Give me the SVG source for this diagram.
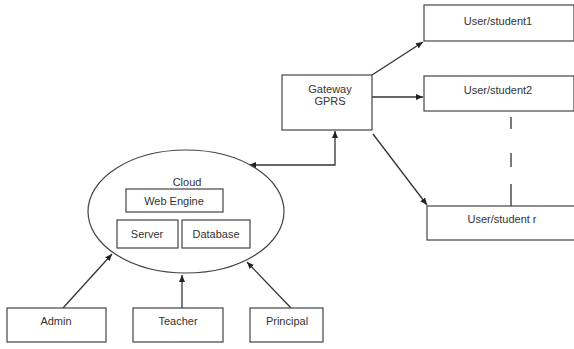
<svg xmlns="http://www.w3.org/2000/svg" width="574" height="349" viewBox="0 0 574 349">
<style>
.box{fill:#fff;stroke:#444;stroke-width:1.2}
.lbl{font-family:"Liberation Sans",Arial,sans-serif;font-size:11px;fill:#333;text-anchor:middle}
.con{fill:none;stroke:#333;stroke-width:1.3}
</style>
<defs>
<marker id="ah" markerWidth="8" markerHeight="8" refX="7" refY="4" orient="auto" markerUnits="userSpaceOnUse">
<path d="M0,1 L7,4 L0,7 Z" fill="#222"/>
</marker>
<marker id="ahs" markerWidth="8" markerHeight="8" refX="0" refY="4" orient="auto" markerUnits="userSpaceOnUse">
<path d="M7,1 L0,4 L7,7 Z" fill="#222"/>
</marker>
</defs>
<rect width="574" height="349" fill="#fff"/>
<g id="connectors">
<line class="con" x1="372" y1="75" x2="423" y2="42" marker-end="url(#ah)"/>
<line class="con" x1="372" y1="97" x2="423" y2="97" marker-end="url(#ah)"/>
<line class="con" x1="373" y1="134" x2="427" y2="205" marker-end="url(#ah)"/>
<polyline class="con" points="249,165 335,165 335,131" marker-start="url(#ahs)" marker-end="url(#ah)"/>
<path class="con" d="M511,117 V129 M511,153 V167 M511,184 V206"/>
<line class="con" x1="63" y1="308" x2="112" y2="254" marker-end="url(#ah)"/>
<line class="con" x1="182" y1="308" x2="182" y2="275" marker-end="url(#ah)"/>
<line class="con" x1="291" y1="308" x2="247" y2="262" marker-end="url(#ah)"/>
</g>
<g id="user1"><rect class="box" x="424" y="5" width="150" height="36"/><text class="lbl" x="498" y="25">User/student1</text></g>
<g id="user2"><rect class="box" x="424" y="76" width="150" height="35"/><text class="lbl" x="498" y="94">User/student2</text></g>
<g id="userr"><rect class="box" x="427" y="206" width="148" height="34"/><text class="lbl" x="502" y="223">User/student r</text></g>
<g id="gateway"><rect class="box" x="282" y="75" width="90" height="55"/><text class="lbl" x="330" y="93">Gateway</text><text class="lbl" x="330" y="105">GPRS</text></g>
<g id="cloud">
<ellipse class="box" cx="186" cy="211.5" rx="98" ry="61.5"/>
<text class="lbl" x="187" y="186">Cloud</text>
</g>
<g id="webengine"><rect class="box" x="126" y="189" width="97" height="23"/><text class="lbl" x="174" y="205">Web Engine</text></g>
<g id="server"><rect class="box" x="117" y="220" width="61" height="28"/><text class="lbl" x="147" y="238">Server</text></g>
<g id="database"><rect class="box" x="182" y="220" width="68" height="28"/><text class="lbl" x="216" y="238">Database</text></g>
<g id="admin"><rect class="box" x="7" y="308" width="99" height="34"/><text class="lbl" x="56" y="325">Admin</text></g>
<g id="teacher"><rect class="box" x="133" y="308" width="90" height="34"/><text class="lbl" x="178" y="325">Teacher</text></g>
<g id="principal"><rect class="box" x="250" y="308" width="73" height="34"/><text class="lbl" x="287" y="325">Principal</text></g>
</svg>
